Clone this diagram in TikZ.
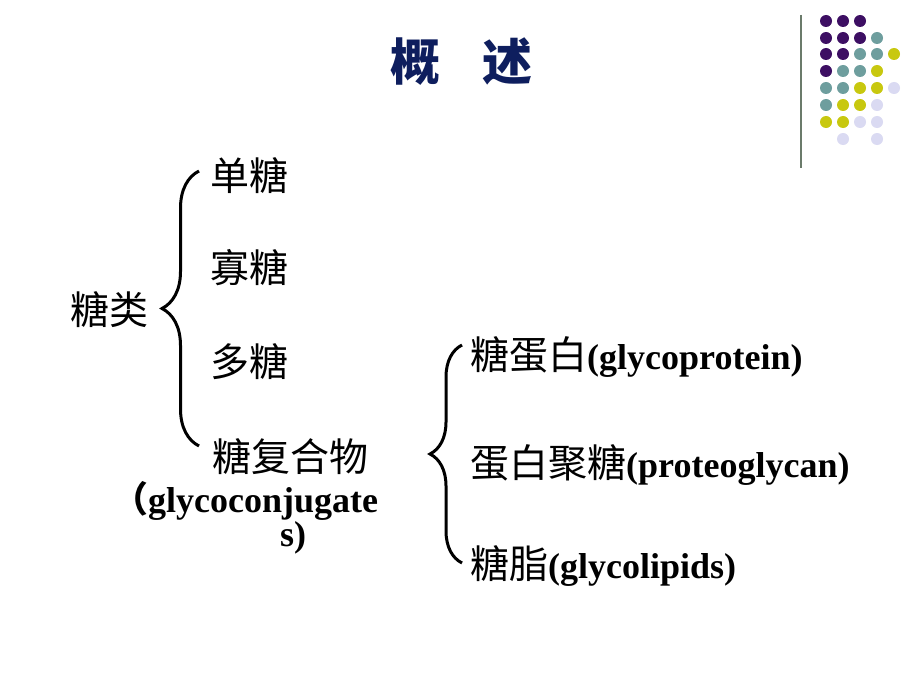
\documentclass[tikz,border=0pt]{standalone}
\usepackage{fontspec}
\setmainfont{Liberation Serif}
\newfontfamily\cjk{Noto Sans CJK SC}
\usetikzlibrary{decorations.pathreplacing}
\definecolor{titleblue}{HTML}{0E1E5E}
\definecolor{dotpurple}{HTML}{3D0F63}
\definecolor{dotteal}{HTML}{6E9E9E}
\definecolor{dotyellow}{HTML}{C8C80F}
\definecolor{dotlilac}{HTML}{DADAF2}
\definecolor{rulegreen}{HTML}{6B7B6B}
\begin{document}
\begin{tikzpicture}[x=1pt,y=-1pt,
  item/.style={anchor=base west,inner sep=0pt,font=\fontsize{39}{44}\selectfont},
  latin/.style={anchor=base west,inner sep=0pt,font=\fontsize{36}{40}\selectfont\bfseries},
  curly/.style={decorate,line width=3pt,decoration={brace,amplitude=#1}}]
  \useasboundingbox[fill=white] (0,0) rectangle (920,690);
  % title
  \node[inner sep=0pt,text=titleblue,font=\fontsize{50}{56}\selectfont\cjk\bfseries] (title) at (461,62) {概\hspace{42pt}述};
  % corner rule and dots
  \draw[rulegreen,line width=2pt] (801,15) -- (801,168);
  \fill[dotpurple] (826,21) circle (6pt);
  \fill[dotpurple] (843,21) circle (6pt);
  \fill[dotpurple] (860,21) circle (6pt);
  \fill[dotpurple] (826,38) circle (6pt);
  \fill[dotpurple] (843,38) circle (6pt);
  \fill[dotpurple] (860,38) circle (6pt);
  \fill[dotteal] (877,38) circle (6pt);
  \fill[dotpurple] (826,54) circle (6pt);
  \fill[dotpurple] (843,54) circle (6pt);
  \fill[dotteal] (860,54) circle (6pt);
  \fill[dotteal] (877,54) circle (6pt);
  \fill[dotyellow] (894,54) circle (6pt);
  \fill[dotpurple] (826,71) circle (6pt);
  \fill[dotteal] (843,71) circle (6pt);
  \fill[dotteal] (860,71) circle (6pt);
  \fill[dotyellow] (877,71) circle (6pt);
  \fill[dotteal] (826,88) circle (6pt);
  \fill[dotteal] (843,88) circle (6pt);
  \fill[dotyellow] (860,88) circle (6pt);
  \fill[dotyellow] (877,88) circle (6pt);
  \fill[dotlilac] (894,88) circle (6pt);
  \fill[dotteal] (826,105) circle (6pt);
  \fill[dotyellow] (843,105) circle (6pt);
  \fill[dotyellow] (860,105) circle (6pt);
  \fill[dotlilac] (877,105) circle (6pt);
  \fill[dotyellow] (826,122) circle (6pt);
  \fill[dotyellow] (843,122) circle (6pt);
  \fill[dotlilac] (860,122) circle (6pt);
  \fill[dotlilac] (877,122) circle (6pt);
  \fill[dotlilac] (843,139) circle (6pt);
  \fill[dotlilac] (877,139) circle (6pt);
  % left group
  \node[item] (sugars) at (70,324) {\cjk 糖类};
  \node[item] (mono) at (210,190) {\cjk 单糖};
  \node[item] (oligo) at (210,282) {\cjk 寡糖};
  \node[item] (poly) at (210,376) {\cjk 多糖};
  \node[item] (conj) at (212,471) {\cjk 糖复合物};
  \node[latin] (conjen) at (112,512) {{\cjk （}glycoconjugate};
  \node[latin] (conjend) at (280,546) {s)};
  \coordinate (lbot) at (199,446);
  \coordinate (ltop) at (199,171);
  \draw[curly=37pt] (lbot) -- (ltop);
  % right group
  \node[item] (gprot) at (470,369) {\cjk 糖蛋白\fontsize{36}{40}\selectfont\rmfamily\bfseries(glycoprotein)};
  \node[item] (pglyc) at (470,477) {\cjk 蛋白聚糖\fontsize{36}{40}\selectfont\rmfamily\bfseries(proteoglycan)};
  \node[item] (glip) at (470,578) {\cjk 糖脂\fontsize{36}{40}\selectfont\rmfamily\bfseries(glycolipids)};
  \coordinate (rbot) at (462,563);
  \coordinate (rtop) at (462,345);
  \draw[curly=32pt] (rbot) -- (rtop);
\end{tikzpicture}
\end{document}
